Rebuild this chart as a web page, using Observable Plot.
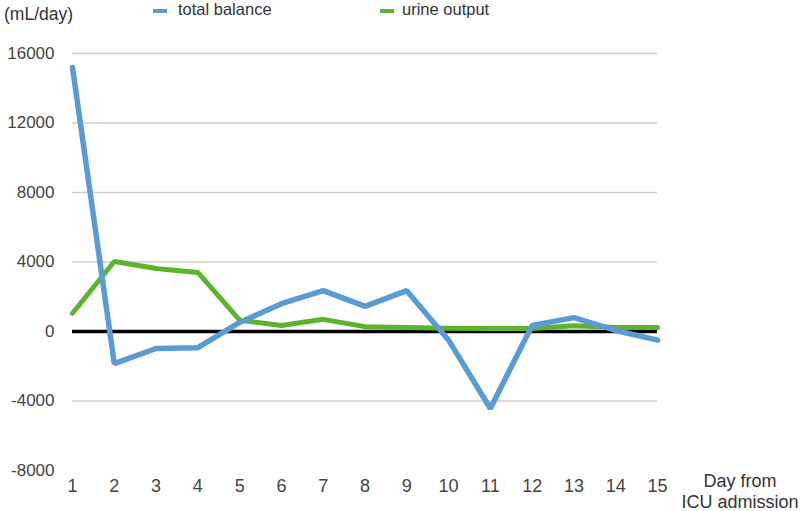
<!DOCTYPE html>
<html>
<head>
<meta charset="utf-8">
<script src="https://cdn.jsdelivr.net/npm/d3@7"></script>
<script src="https://cdn.jsdelivr.net/npm/@observablehq/plot@0.6"></script>
<style>
  html, body { margin: 0; padding: 0; background: #fff; }
  #wrap { position: relative; width: 800px; height: 511px; font-family: "Liberation Sans", Arial, sans-serif; color: #444; overflow: hidden; }
  #chart { position: absolute; left: 0; top: 0; }
  .lab { position: absolute; font-size: 16.5px; color: #333; white-space: nowrap; }
  .sw { position: absolute; width: 14px; height: 4px; }
  #chart svg g[aria-label="x-axis tick label"] text { font-size: 18px; }
  #chart svg g[aria-label="y-axis tick label"] text { font-size: 17px; }
</style>
</head>
<body>
<div id="wrap">
  <div id="chart"></div>
  <div class="lab" style="left:4px; top:4px; font-size:17.5px;">(mL/day)</div>
  <div class="sw" style="left:153px; top:9px; background:#5b9bd5;"></div>
  <div class="lab" style="left:178px; top:0px;">total balance</div>
  <div class="sw" style="left:380px; top:9px; background:#5ab52d;"></div>
  <div class="lab" style="left:402px; top:0px;">urine output</div>
  <div class="lab" style="left:670px; top:471px; width:140px; text-align:center; line-height:21px; font-size:18px;">Day from<br>ICU admission</div>
</div>
<script>
const days = [1,2,3,4,5,6,7,8,9,10,11,12,13,14,15];
const totalBalance = [15200, -1850, -980, -930, 520, 1600, 2350, 1450, 2350, -500, -4430, 350, 800, 60, -500];
const urineOutput = [1050, 4030, 3630, 3400, 650, 350, 700, 280, 230, 180, 170, 170, 330, 230, 230];
const yTicks = [-8000, -4000, 0, 4000, 8000, 12000, 16000];
const gridTicks = [-4000, 4000, 8000, 12000, 16000];

const tb = days.map((d, i) => ({day: d, value: totalBalance[i]}));
const uo = days.map((d, i) => ({day: d, value: urineOutput[i]}));

const plot = Plot.plot({
  width: 800,
  height: 511,
  marginLeft: 72,
  marginRight: 143,
  marginTop: 53,
  marginBottom: 41,
  style: {fontFamily: "Liberation Sans, Arial, sans-serif", fontSize: "17px", color: "#444", background: "white", overflow: "visible"},
  x: {domain: [1, 15], ticks: days, tickFormat: d => String(d), tickSize: 0, tickPadding: 9, label: null},
  y: {domain: [-8000, 16000], ticks: yTicks, tickFormat: d => String(d), tickSize: 0, tickPadding: 18, label: null},
  marks: [
    Plot.ruleY(gridTicks, {stroke: "#cfcfcf", strokeWidth: 1.5}),
    Plot.ruleY([0], {stroke: "#000", strokeWidth: 3.5}),
    Plot.line(uo, {x: "day", y: "value", stroke: "#5ab52d", strokeWidth: 5, strokeLinejoin: "miter"}),
    Plot.line(tb, {x: "day", y: "value", stroke: "#5b9bd5", strokeWidth: 5.5, strokeLinejoin: "miter"})
  ]
});
document.getElementById("chart").appendChild(plot);
</script>
</body>
</html>
